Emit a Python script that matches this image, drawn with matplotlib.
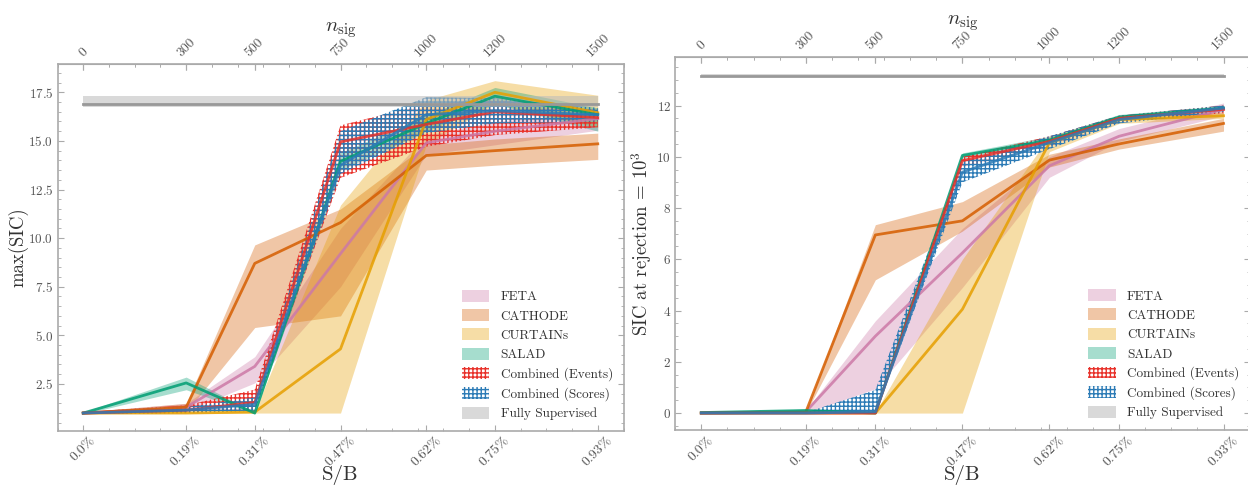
import matplotlib
matplotlib.use("Agg")
import matplotlib.pyplot as plt
from matplotlib.patches import Patch
from matplotlib.ticker import AutoMinorLocator, MultipleLocator

plt.rcParams.update({
    "font.family": "serif",
    "font.serif": ["cmr10", "DejaVu Serif"],
    "mathtext.fontset": "cm",
    "axes.formatter.use_mathtext": True,
    "axes.unicode_minus": False,
    "hatch.linewidth": 1.0,
})

# shared x axis: number of injected signal events and the matching S/B
N_SIG = [0, 300, 500, 750, 1000, 1200, 1500]
SB_LABELS = ["0.0%", "0.19%", "0.31%", "0.47%", "0.62%", "0.75%", "0.93%"]
NSIG_LABELS = ["0", "300", "500", "750", "1000", "1200", "1500"]

# left panel: max(SIC)  (median, lower, upper)
FETA_MAX = [1.0, 1.3, 3.4, 9.2, 14.9, 15.5, 16.15]
FETA_MAX_LO = [0.95, 1.1, 2.55, 7.5, 14.3, 14.8, 15.55]
FETA_MAX_HI = [1.05, 1.5, 3.9, 10.5, 15.3, 16.0, 16.5]
CATHODE_MAX = [1.0, 1.3, 8.7, 10.8, 14.25, 14.5, 14.85]
CATHODE_MAX_LO = [0.95, 1.05, 5.4, 6.0, 13.5, 13.75, 14.05]
CATHODE_MAX_HI = [1.05, 1.5, 9.65, 11.5, 14.8, 15.1, 15.4]
CURTAINS_MAX = [1.0, 1.0, 1.05, 4.3, 16.1, 17.5, 16.45]
CURTAINS_MAX_LO = [1.0, 1.0, 1.0, 1.0, 14.8, 16.9, 15.7]
CURTAINS_MAX_HI = [1.0, 1.02, 1.1, 11.7, 17.1, 18.1, 17.35]
SALAD_MAX = [1.0, 2.55, 1.0, 13.95, 15.9, 17.3, 16.35]
SALAD_MAX_LO = [0.95, 2.2, 0.95, 13.5, 15.5, 16.9, 15.5]
SALAD_MAX_HI = [1.05, 2.85, 1.05, 14.4, 16.3, 17.75, 16.7]
EVENTS_MAX = [1.0, 1.15, 1.55, 14.95, 15.85, 16.5, 16.2]
EVENTS_MAX_LO = [0.95, 1.0, 1.2, 13.1, 14.7, 15.3, 15.7]
EVENTS_MAX_HI = [1.05, 1.4, 2.2, 15.8, 16.9, 17.1, 16.6]
SCORES_MAX = [1.0, 1.15, 1.45, 13.75, 16.35, 16.55, 16.35]
SCORES_MAX_LO = [0.95, 1.0, 1.1, 13.3, 15.4, 15.9, 16.0]
SCORES_MAX_HI = [1.05, 1.3, 1.8, 15.5, 17.25, 17.2, 16.7]
SUPERVISED_MAX = 16.92
SUPERVISED_MAX_LO = 16.72
SUPERVISED_MAX_HI = 17.33

# right panel: SIC at background rejection 10^3
FETA_REJ = [0.0, 0.05, 3.0, 6.25, 9.65, 10.8, 11.85]
FETA_REJ_LO = [0.0, 0.0, 0.95, 4.9, 9.2, 10.6, 11.6]
FETA_REJ_HI = [0.02, 0.1, 3.6, 7.2, 10.0, 11.1, 12.1]
CATHODE_REJ = [0.0, 0.03, 6.95, 7.5, 9.87, 10.5, 11.3]
CATHODE_REJ_LO = [0.0, 0.0, 5.2, 7.1, 9.6, 10.3, 11.0]
CATHODE_REJ_HI = [0.02, 0.06, 7.35, 8.25, 10.1, 10.7, 11.5]
CURTAINS_REJ = [0.0, 0.0, 0.0, 4.05, 10.55, 11.45, 11.6]
CURTAINS_REJ_LO = [0.0, 0.0, 0.0, 0.0, 10.2, 11.3, 11.5]
CURTAINS_REJ_HI = [0.0, 0.0, 0.02, 6.0, 10.8, 11.6, 11.75]
SALAD_REJ = [0.02, 0.1, 0.0, 10.05, 10.65, 11.55, 11.9]
SALAD_REJ_LO = [0.0, 0.05, 0.0, 9.95, 10.5, 11.45, 11.8]
SALAD_REJ_HI = [0.06, 0.15, 0.05, 10.15, 10.8, 11.65, 12.0]
EVENTS_REJ = [0.0, 0.0, 0.0, 9.85, 10.6, 11.5, 11.85]
EVENTS_REJ_LO = [0.0, 0.0, 0.0, 9.6, 10.4, 11.35, 11.7]
EVENTS_REJ_HI = [0.02, 0.02, 0.05, 10.0, 10.8, 11.6, 12.0]
SCORES_REJ = [0.0, 0.0, 0.05, 9.4, 10.55, 11.45, 11.9]
SCORES_REJ_LO = [0.0, 0.0, 0.0, 9.0, 10.3, 11.3, 11.75]
SCORES_REJ_HI = [0.02, 0.02, 0.9, 9.8, 10.8, 11.6, 12.0]
SUPERVISED_REJ = 13.17
SUPERVISED_REJ_LO = 13.12
SUPERVISED_REJ_HI = 13.22

NAMES = ["FETA", "CATHODE", "CURTAINs", "SALAD", "Combined (Events)", "Combined (Scores)"]
COLORS = ["#CC79A7", "#D55E00", "#E69F00", "#009E73", "#E8312A", "#2C7BB6"]
HATCHED = [False, False, False, False, True, True]
SUP_COLOR = "#999999"
HATCH = "++++"
SPINE = "#aaaaaa"
TEXT = "#333333"


def draw_panel(ax, curves, sup, ylabel, ylabel_x):
    for (mean, lo, hi), color, hatched in zip(curves, COLORS, HATCHED):
        if hatched:
            ax.fill_between(N_SIG, lo, hi, facecolor="none", edgecolor=color, hatch=HATCH, linewidth=0)
        else:
            ax.fill_between(N_SIG, lo, hi, color=color, alpha=0.35, linewidth=0)
        ax.plot(N_SIG, mean, color=color, lw=2, alpha=0.85)
    s_mean, s_lo, s_hi = sup
    ends = [N_SIG[0], N_SIG[-1]]
    ax.fill_between(ends, [s_lo] * 2, [s_hi] * 2, color="#bbbbbb", alpha=0.55, linewidth=0)
    ax.plot(ends, [s_mean] * 2, color=SUP_COLOR, lw=2)

    ax.set_xticks(N_SIG, SB_LABELS, rotation=45)
    ax.xaxis.set_minor_locator(MultipleLocator(75))
    ax.yaxis.set_minor_locator(AutoMinorLocator())
    ax.tick_params(which="both", direction="in", colors=SPINE, labelcolor="#555555",
                   labelsize=9.5, pad=3, left=True, right=True, bottom=True, top=True)
    ax.tick_params(axis="x", labelsize=10)
    ax.tick_params(which="major", length=4)
    ax.tick_params(which="minor", length=2)
    for sp in ax.spines.values():
        sp.set_color(SPINE)
        sp.set_linewidth(1.2)
    ax.set_xlabel("S/B", fontsize=15, color=TEXT)
    ax.xaxis.set_label_coords(0.5, -0.093)
    ax.set_ylabel(ylabel, fontsize=13.5, color=TEXT)
    ax.yaxis.set_label_coords(ylabel_x, 0.5)

    top = ax.secondary_xaxis("top")
    top.set_xticks(N_SIG, NSIG_LABELS, rotation=45)
    top.xaxis.set_minor_locator(MultipleLocator(75))
    top.tick_params(which="both", direction="in", colors=SPINE, labelcolor="#555555", labelsize=9.8)
    top.tick_params(which="major", length=4)
    top.tick_params(which="minor", length=2)
    top.spines["top"].set_color(SPINE)
    top.set_xlabel(r"$n_{\mathrm{sig}}$", fontsize=15, color=TEXT, labelpad=0)

    handles = []
    for name, color, hatched in zip(NAMES, COLORS, HATCHED):
        if hatched:
            handles.append(Patch(facecolor="none", edgecolor=color, hatch=HATCH, linewidth=0, label=name))
        else:
            handles.append(Patch(facecolor=color, alpha=0.35, linewidth=0, label=name))
    handles.append(Patch(facecolor="#bbbbbb", alpha=0.55, linewidth=0, label="Fully Supervised"))
    ax.legend(handles=handles, loc="lower right", frameon=False, fontsize=9.5,
              labelspacing=0.45, handlelength=2.1, handleheight=1.0, handletextpad=0.85,
              borderaxespad=0.4, labelcolor=TEXT)


fig = plt.figure(figsize=(12.48, 4.86), dpi=100)
ax_l = fig.add_axes([0.0461, 0.1138, 0.4535, 0.7545])
ax_r = fig.add_axes([0.5410, 0.1152, 0.4603, 0.7669])

draw_panel(ax_l, [(FETA_MAX, FETA_MAX_LO, FETA_MAX_HI),
                  (CATHODE_MAX, CATHODE_MAX_LO, CATHODE_MAX_HI),
                  (CURTAINS_MAX, CURTAINS_MAX_LO, CURTAINS_MAX_HI),
                  (SALAD_MAX, SALAD_MAX_LO, SALAD_MAX_HI),
                  (EVENTS_MAX, EVENTS_MAX_LO, EVENTS_MAX_HI),
                  (SCORES_MAX, SCORES_MAX_LO, SCORES_MAX_HI)],
           (SUPERVISED_MAX, SUPERVISED_MAX_LO, SUPERVISED_MAX_HI), "max(SIC)", -0.052)
draw_panel(ax_r, [(FETA_REJ, FETA_REJ_LO, FETA_REJ_HI),
                  (CATHODE_REJ, CATHODE_REJ_LO, CATHODE_REJ_HI),
                  (CURTAINS_REJ, CURTAINS_REJ_LO, CURTAINS_REJ_HI),
                  (SALAD_REJ, SALAD_REJ_LO, SALAD_REJ_HI),
                  (EVENTS_REJ, EVENTS_REJ_LO, EVENTS_REJ_HI),
                  (SCORES_REJ, SCORES_REJ_LO, SCORES_REJ_HI)],
           (SUPERVISED_REJ, SUPERVISED_REJ_LO, SUPERVISED_REJ_HI), r"SIC at rejection = $10^3$", -0.036)

fig.savefig("out.png", dpi=100)
